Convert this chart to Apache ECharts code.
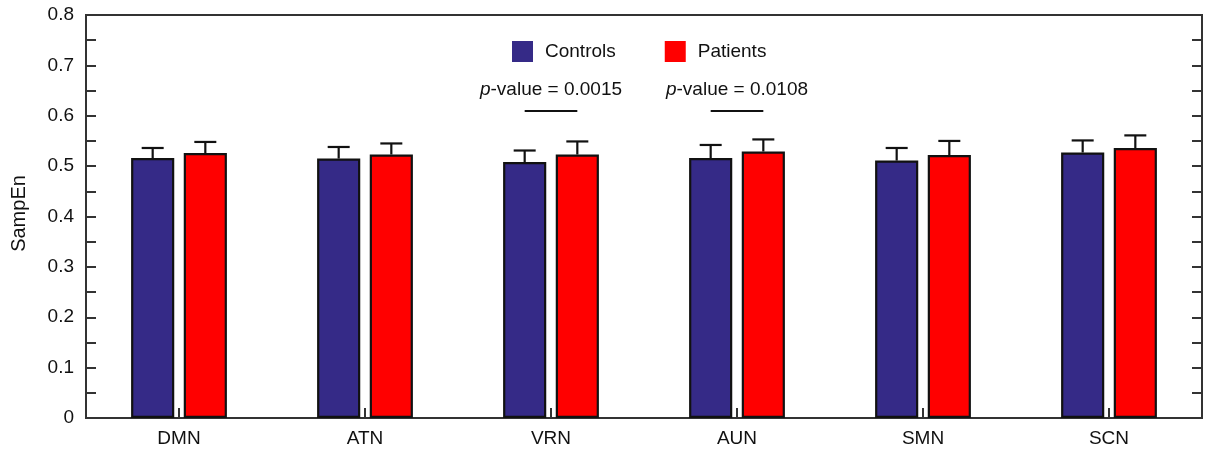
<!DOCTYPE html>
<html>
<head>
<meta charset="utf-8">
<script src="https://cdn.jsdelivr.net/npm/echarts@6/dist/echarts.min.js"></script>
<style>
html,body{margin:0;padding:0;background:#fff;}
#chart{width:1207px;height:449px;}
</style>
</head>
<body>
<div id="chart"></div>
<script>
const categories = ['DMN', 'ATN', 'VRN', 'AUN', 'SMN', 'SCN'];
const controlsMean = [0.516, 0.515, 0.508, 0.516, 0.511, 0.527];
const controlsErr  = [0.020, 0.023, 0.023, 0.026, 0.025, 0.024];
const patientsMean = [0.526, 0.523, 0.523, 0.529, 0.522, 0.536];
const patientsErr  = [0.022, 0.022, 0.026, 0.024, 0.028, 0.025];
const yTicks = [0, 0.1, 0.2, 0.3, 0.4, 0.5, 0.6, 0.7, 0.8];
const pLabels = ['0.0015', '0.0108'];
const pCategoryIndex = [2, 3];
const pLineValue = 0.609;
const pTextValue = 0.651;

const FONT = 'Liberation Sans, Arial, sans-serif';
const BAR_W = 0.232;   // fraction of category width
const BAR_GAP = 0.22;  // fraction of bar width
const AXIS_COLOR = '#333';
const TXT = '#111';

const chart = echarts.init(document.getElementById('chart'), null, {renderer: 'canvas'});

function errRender(offsetSign, errArr) {
  return function (params, api) {
    const idx = api.value(0);
    const mean = api.value(1);
    const err = errArr[idx];
    const band = api.size([1, 0])[0];
    const bw = band * BAR_W;
    const off = offsetSign * (bw + bw * BAR_GAP) / 2;
    const top = api.coord([idx, mean + err]);
    const base = api.coord([idx, mean]);
    const x = base[0] + off;
    const capHalf = 11;
    return {
      type: 'group',
      children: [
        {type: 'line', shape: {x1: x, y1: base[1], x2: x, y2: top[1]}, style: {stroke: '#111', lineWidth: 2.2}},
        {type: 'line', shape: {x1: x - capHalf, y1: top[1], x2: x + capHalf, y2: top[1]}, style: {stroke: '#111', lineWidth: 2.2}}
      ]
    };
  };
}

const ctrlColor = '#352a87';
const patColor = '#ff0000';

function barCenterUnit(i, sign) {
  return i + 0.5 + sign * (BAR_W + BAR_W * BAR_GAP) / 2;
}
const pLineData = pCategoryIndex.map(i => [
  {coord: [barCenterUnit(i, -1), pLineValue]},
  {coord: [barCenterUnit(i, 1), pLineValue]}
]);
const pTextData = pCategoryIndex.map((i, k) => ({value: [i + 0.5, pTextValue], p: pLabels[k]}));

const option = {
  animation: false,
  backgroundColor: '#fff',
  grid: {left: 86, right: 5, top: 15, bottom: 31, show: true, borderColor: AXIS_COLOR, borderWidth: 2},
  legend: {
    data: ['Controls', 'Patients'],
    top: 36,
    left: 507,
    itemWidth: 21,
    itemHeight: 21,
    itemGap: 49,
    itemStyle: {borderWidth: 0},
    textStyle: {fontFamily: FONT, fontSize: 19, color: TXT, padding: [0, 0, 0, 7]},
    icon: 'rect'
  },
  xAxis: [
    {
      type: 'category',
      data: categories,
      axisLine: {show: true, lineStyle: {color: AXIS_COLOR, width: 2}},
      axisTick: {show: true, inside: true, alignWithLabel: true, length: 10, lineStyle: {color: AXIS_COLOR, width: 2}},
      axisLabel: {fontFamily: FONT, fontSize: 19, color: TXT, margin: 11},
      splitLine: {show: false}
    },
    {
      type: 'value', min: 0, max: 6, show: false
    }
  ],
  yAxis: [
    {
      type: 'value', min: 0, max: 0.8, interval: 0.1,
      name: 'SampEn', nameLocation: 'middle', nameGap: 57,
      nameTextStyle: {fontFamily: FONT, fontSize: 20, color: TXT, padding: [0, 0, 0, 6]},
      axisLine: {show: true, lineStyle: {color: AXIS_COLOR, width: 2}},
      axisTick: {show: true, inside: true, length: 10, lineStyle: {color: AXIS_COLOR, width: 2}},
      minorTick: {show: true, splitNumber: 2, length: 10, lineStyle: {color: AXIS_COLOR, width: 2}},
      axisLabel: {fontFamily: FONT, fontSize: 19, color: TXT, margin: 12,
        formatter: v => { const t = yTicks.find(y => Math.abs(y - v) < 1e-9); return t === 0 ? '0' : t.toFixed(1); }},
      splitLine: {show: false}
    },
    {
      type: 'value', min: 0, max: 0.8, interval: 0.1, position: 'right',
      axisLine: {show: true, lineStyle: {color: AXIS_COLOR, width: 2}},
      axisTick: {show: true, inside: true, length: 10, lineStyle: {color: AXIS_COLOR, width: 2}},
      minorTick: {show: true, splitNumber: 2, length: 10, lineStyle: {color: AXIS_COLOR, width: 2}},
      axisLabel: {show: false},
      splitLine: {show: false}
    }
  ],
  series: [
    {
      name: 'Controls', type: 'bar', data: controlsMean,
      barWidth: (BAR_W * 100) + '%', barGap: (BAR_GAP * 100) + '%',
      itemStyle: {color: ctrlColor, borderColor: '#111', borderWidth: 2.2},
      z: 2
    },
    {
      name: 'Patients', type: 'bar', data: patientsMean,
      barWidth: (BAR_W * 100) + '%',
      itemStyle: {color: patColor, borderColor: '#111', borderWidth: 2.2},
      z: 2
    },
    {
      type: 'custom', name: 'ctrlErr', renderItem: errRender(-1, controlsErr),
      data: controlsMean.map((v, i) => [i, v]), z: 1, silent: true
    },
    {
      type: 'custom', name: 'patErr', renderItem: errRender(1, patientsErr),
      data: patientsMean.map((v, i) => [i, v]), z: 1, silent: true
    },
    {
      type: 'scatter', name: 'pvals', xAxisIndex: 1, yAxisIndex: 0,
      symbolSize: 0, silent: true,
      itemStyle: {opacity: 1},
      data: pTextData,
      label: {
        show: true, position: 'inside', opacity: 1,
        formatter: p => '{i|p}{n|-value = ' + p.data.p + '}',
        rich: {
          i: {fontStyle: 'italic', fontFamily: FONT, fontSize: 19, color: TXT},
          n: {fontFamily: FONT, fontSize: 19, color: TXT}
        }
      },
      markLine: {
        silent: true, symbol: 'none',
        lineStyle: {color: '#111', width: 2, type: 'solid', opacity: 1},
        label: {show: false},
        data: pLineData
      }
    }
  ]
};
chart.setOption(option);
</script>
</body>
</html>
